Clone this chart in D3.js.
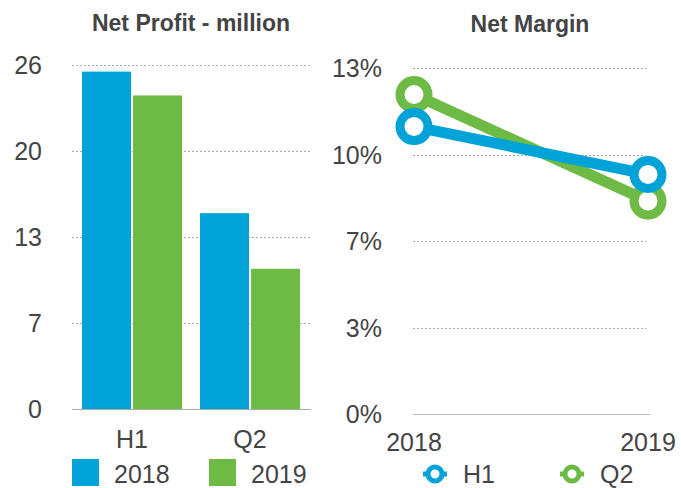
<!DOCTYPE html>
<html>
<head>
<meta charset="utf-8">
<script src="https://cdn.jsdelivr.net/npm/d3@7"></script>
<style>
  body { margin: 0; background: #fff; }
  text { font-family: "Liberation Sans", Arial, sans-serif; fill: #444; }
</style>
</head>
<body>
<div id="chart"></div>
<script>
// data
var categories = ["H1", "Q2"];
var years = ["2018", "2019"];
var profit2018 = [25.5, 14.8];
var profit2019 = [23.7, 10.6];
var marginH1 = [10.8, 9.0];
var marginQ2 = [12.0, 8.0];
var profitTicks = [0, 6.5, 13, 19.5, 26];
var marginTicks = [0, 3.25, 6.5, 9.75, 13];

var blue = "#00a3d8", green = "#6dbb45";
var colors = [blue, green];

var svg = d3.select("#chart").append("svg")
  .attr("width", 681).attr("height", 488);

// ---- left: bars
var yL = d3.scaleLinear().domain([0, 26]).range([409, 65]);
var x0 = d3.scaleBand().domain(categories).range([73, 309]);
var x1 = d3.scaleBand().domain(years).range([0, 100]).paddingInner(0.04);
var groupOff = (x0.bandwidth() - 100) / 2;

svg.append("text").attr("x", 191).attr("y", 31).attr("text-anchor", "middle")
  .style("font-size", "23px").style("font-weight", "bold").text("Net Profit - million");

var gridL = svg.append("g");
gridL.selectAll("line").data(profitTicks.slice(1)).join("line")
  .attr("x1", 72).attr("x2", 311)
  .attr("y1", function(d) { return Math.round(yL(d)) + 0.5; })
  .attr("y2", function(d) { return Math.round(yL(d)) + 0.5; })
  .attr("stroke", "#aaa").attr("stroke-dasharray", "2,2");

svg.selectAll(".ytL").data(profitTicks).join("text").attr("class", "ytL")
  .attr("x", 42).attr("y", function(d) { return yL(d) + 9; })
  .attr("text-anchor", "end").style("font-size", "25px")
  .text(function(d) { return Math.round(d); });

var series = [profit2018, profit2019];
years.forEach(function(yr, si) {
  svg.append("g").selectAll("rect").data(categories).join("rect")
    .attr("x", function(c) { return x0(c) + groupOff + x1(yr); })
    .attr("width", x1.bandwidth())
    .attr("y", function(c, i) { return yL(series[si][i]); })
    .attr("height", function(c, i) { return yL(0) - yL(series[si][i]); })
    .attr("fill", colors[si]);
});

svg.append("line").attr("x1", 72).attr("x2", 311).attr("y1", 409.5).attr("y2", 409.5)
  .attr("stroke", "#aaa").attr("stroke-width", 1);

svg.selectAll(".xtL").data(categories).join("text").attr("class", "xtL")
  .attr("x", function(c) { return x0(c) + x0.bandwidth() / 2; })
  .attr("y", 448).attr("text-anchor", "middle").style("font-size", "25px")
  .text(function(c) { return c; });

var legL = svg.append("g");
years.forEach(function(yr, i) {
  var lx = [72, 209][i];
  legL.append("rect").attr("x", lx).attr("y", 459).attr("width", 27).attr("height", 27)
    .attr("fill", colors[i]);
  legL.append("text").attr("x", lx + 42).attr("y", 483).style("font-size", "25px").text(yr);
});

// ---- right: lines
var yR = d3.scaleLinear().domain([0, 13]).range([414, 68]);
var xR = d3.scalePoint().domain(years).range([414, 648]);

svg.append("text").attr("x", 530).attr("y", 32).attr("text-anchor", "middle")
  .style("font-size", "23px").style("font-weight", "bold").text("Net Margin");

svg.append("g").selectAll("line").data(marginTicks.slice(1)).join("line")
  .attr("x1", 413).attr("x2", 646)
  .attr("y1", function(d) { return Math.round(yR(d)) + 0.5; })
  .attr("y2", function(d) { return Math.round(yR(d)) + 0.5; })
  .attr("stroke", "#aaa").attr("stroke-dasharray", "2,2");

svg.append("line").attr("x1", 413).attr("x2", 650).attr("y1", 414.5).attr("y2", 414.5)
  .attr("stroke", "#bbb").attr("stroke-width", 1);

svg.selectAll(".ytR").data(marginTicks).join("text").attr("class", "ytR")
  .attr("x", 382).attr("y", function(d) { return yR(d) + 9; })
  .attr("text-anchor", "end").style("font-size", "25px")
  .text(function(d) { return Math.round(d) + "%"; });

svg.selectAll(".xtR").data(years).join("text").attr("class", "xtR")
  .attr("x", function(d) { return xR(d); }).attr("y", 451)
  .attr("text-anchor", "middle").style("font-size", "25px")
  .text(function(d) { return d; });

var line = d3.line().x(function(d, i) { return xR(years[i]); }).y(function(d) { return yR(d); });
var lineSeries = [{ name: "H1", vals: marginH1, c: blue }, { name: "Q2", vals: marginQ2, c: green }];

// draw Q2 first so H1 sits on top
[lineSeries[1], lineSeries[0]].forEach(function(s) {
  var g = svg.append("g");
  g.append("path").attr("d", line(s.vals)).attr("fill", "none")
    .attr("stroke", s.c).attr("stroke-width", 11);
  g.selectAll("circle").data(s.vals).join("circle")
    .attr("cx", function(d, i) { return xR(years[i]); })
    .attr("cy", function(d) { return yR(d); })
    .attr("r", 14).attr("fill", "#fff").attr("stroke", s.c).attr("stroke-width", 9);
});

var legR = svg.append("g");
lineSeries.forEach(function(s, i) {
  var cx = [435, 572][i];
  legR.append("line").attr("x1", cx - 12).attr("x2", cx + 12).attr("y1", 474).attr("y2", 474)
    .attr("stroke", s.c).attr("stroke-width", 5);
  legR.append("circle").attr("cx", cx).attr("cy", 474).attr("r", 7)
    .attr("fill", "#fff").attr("stroke", s.c).attr("stroke-width", 5);
  legR.append("text").attr("x", cx + 28).attr("y", 483).style("font-size", "25px").text(s.name);
});
</script>
</body>
</html>
